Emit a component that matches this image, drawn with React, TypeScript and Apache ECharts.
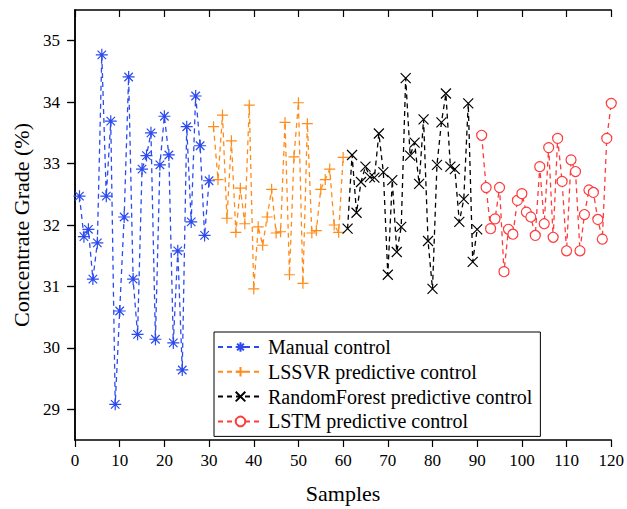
import React, { useEffect, useRef } from "react";
import * as echarts from "echarts";

const manualStart = 1;
const manualValues = [32.47, 31.81, 31.93, 31.12, 31.71, 34.77, 32.47, 33.69, 29.08, 30.6, 32.13, 34.41, 31.12, 30.22, 32.91, 33.13, 33.5, 30.14, 32.98, 33.77, 33.14, 30.08, 31.58, 29.64, 33.6, 32.05, 34.1, 33.29, 31.83, 32.72];
const lssvrStart = 31;
const lssvrValues = [33.6, 32.74, 33.79, 32.11, 33.37, 31.88, 32.6, 32.02, 33.95, 30.96, 31.97, 31.67, 32.13, 32.58, 31.87, 31.89, 33.67, 31.19, 33.11, 33.99, 31.05, 33.65, 31.87, 31.91, 32.58, 32.74, 32.91, 32.0, 31.88, 33.1];
const rfStart = 61;
const rfValues = [31.94, 33.14, 32.2, 32.7, 32.95, 32.78, 32.77, 33.49, 32.86, 31.19, 32.73, 31.56, 31.97, 34.39, 33.13, 33.34, 32.67, 33.72, 31.74, 30.96, 32.98, 33.67, 34.14, 32.95, 32.91, 32.05, 32.42, 33.98, 31.4, 31.93];
const lstmStart = 91;
const lstmValues = [33.46, 32.61, 31.94, 32.1, 32.61, 31.24, 31.93, 31.85, 32.4, 32.51, 32.21, 32.13, 31.83, 32.95, 32.02, 33.26, 31.8, 33.41, 32.71, 31.58, 33.06, 32.87, 31.58, 32.17, 32.57, 32.53, 32.09, 31.77, 33.41, 33.98];

const seriesNames = [
  "Manual control",
  "LSSVR predictive control",
  "RandomForest predictive control",
  "LSTM predictive control",
];
const yTicks = [29, 30, 31, 32, 33, 34, 35];

const FONT = "Liberation Serif";

const toPairs = (start: number, vals: number[]) => vals.map((v, i) => [start + i, v]);

export default function App() {
  const ref = useRef<HTMLDivElement>(null);
  useEffect(() => {
    if (!ref.current) return;
    const chart = echarts.init(ref.current, undefined, { renderer: "svg" });
    const mkSeries = (
      name: string,
      data: number[][],
      color: string,
      symbol: string,
      symbolSize: number,
      fill: string
    ) => ({
      name,
      type: "line",
      data,
      symbol,
      symbolSize,
      showSymbol: true,
      clip: false,
      lineStyle: { color, width: 1.3, type: [5, 4] },
      itemStyle: { color: fill, borderColor: color, borderWidth: 1.2 },
      emphasis: { disabled: true },
    });
    const xBase = {
      type: "value",
      min: 0,
      max: 120,
      interval: 10,
      splitLine: { show: false },
      axisLine: { lineStyle: { color: "#000", width: 1.5 } },
    };
    const yBase = {
      type: "value",
      min: 28.5,
      max: 35.5,
      splitLine: { show: false },
      axisLine: { lineStyle: { color: "#000", width: 1.5 } },
    };
    chart.setOption({
      animation: false,
      backgroundColor: "#fff",
      textStyle: { fontFamily: FONT },
      grid: { left: 75, top: 10, width: 539, height: 433.5 },
      legend: {
        orient: "vertical",
        left: 214,
        top: 332,
        data: seriesNames,
        itemWidth: 45,
        itemHeight: 12,
        itemGap: 4.8,
        padding: [5, 8, 5, 3],
        borderColor: "#000",
        borderWidth: 1,
        backgroundColor: "#fff",
        textStyle: { fontFamily: FONT, fontSize: 20, color: "#000" },
      },
      xAxis: [
        {
          ...xBase,
          position: "bottom",
          name: "Samples",
          nameLocation: "middle",
          nameGap: 42,
          nameTextStyle: { fontFamily: FONT, fontSize: 22, color: "#000" },
          axisTick: { inside: false, length: 7, lineStyle: { color: "#000", width: 1.2 } },
          axisLabel: { fontFamily: FONT, fontSize: 17, color: "#000", margin: 12 },
        },
        {
          ...xBase,
          position: "top",
          axisTick: { inside: true, length: 7, lineStyle: { color: "#000", width: 1.2 } },
          axisLabel: { show: false },
        },
      ],
      yAxis: [
        {
          ...yBase,
          position: "left",
          name: "Concentrate Grade (%)",
          nameLocation: "middle",
          nameGap: 41,
          nameTextStyle: { fontFamily: FONT, fontSize: 22, color: "#000" },
          axisTick: { inside: false, length: 8, customValues: yTicks, lineStyle: { color: "#000", width: 1.2 } },
          axisLabel: { fontFamily: FONT, fontSize: 17, color: "#000", margin: 15, customValues: yTicks },
        },
        {
          ...yBase,
          position: "right",
          axisTick: { inside: true, length: 7, customValues: yTicks, lineStyle: { color: "#000", width: 1.2 } },
          axisLabel: { show: false, customValues: yTicks },
        },
      ],
      series: [
        mkSeries(
          seriesNames[0],
          toPairs(manualStart, manualValues),
          "#2b4af0",
          "path://M0,5 L10,5 M5,0 L5,10 M1.46,1.46 L8.54,8.54 M8.54,1.46 L1.46,8.54",
          12,
          "transparent"
        ),
        mkSeries(seriesNames[1], toPairs(lssvrStart, lssvrValues), "#ff8c1a", "path://M5,0 L5,10 M0,5 L10,5", 11, "transparent"),
        mkSeries(seriesNames[2], toPairs(rfStart, rfValues), "#000000", "path://M0,0 L10,10 M10,0 L0,10", 10, "transparent"),
        mkSeries(seriesNames[3], toPairs(lstmStart, lstmValues), "#ff3b3b", "circle", 10, "#ffffff"),
      ],
    });
    return () => chart.dispose();
  }, []);
  return <div ref={ref} style={{ width: 627, height: 509, position: "absolute", left: 0, top: 0 }} />;
}
